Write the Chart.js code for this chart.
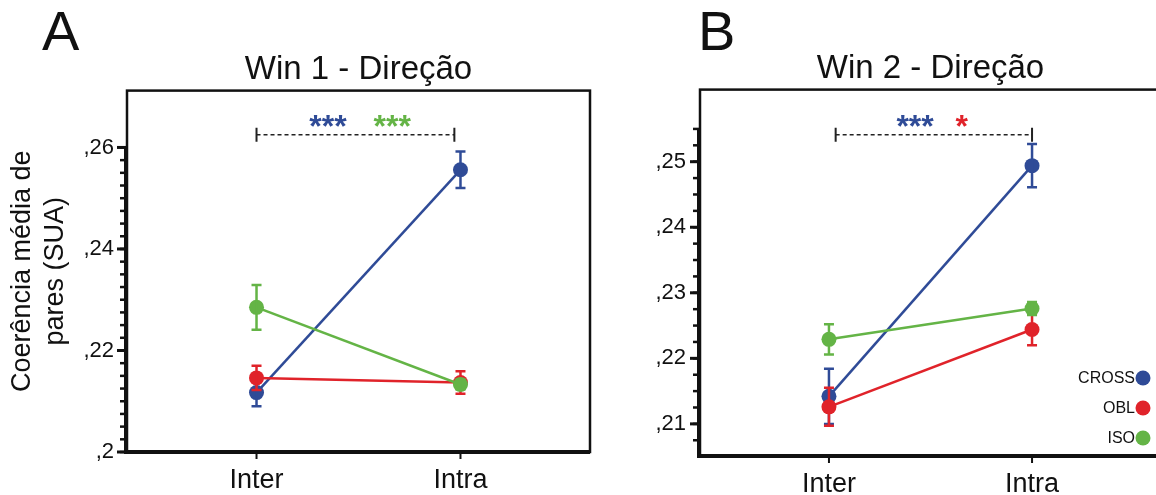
<!DOCTYPE html>
<html>
<head>
<meta charset="utf-8">
<script src="https://cdn.jsdelivr.net/npm/chart.js@4.4.1/dist/chart.umd.min.js"></script>
<style>
  html, body { margin: 0; padding: 0; background: #fff; overflow: hidden; width: 1156px; height: 495px; }
  .panel { position: absolute; top: 0; height: 495px; }
  #wrapA { left: 0; width: 600px; }
  #wrapB { left: 600px; width: 570px; }
  .letter { position: absolute; top: 3px; font: 56px "Liberation Sans", Arial, sans-serif; line-height: 56px; color: #111; }
</style>
</head>
<body>
<div class="panel" id="wrapA"><canvas id="chartA" width="600" height="495"></canvas></div>
<div class="panel" id="wrapB"><canvas id="chartB" width="570" height="495"></canvas></div>
<div class="letter" style="left:42px">A</div>
<div class="letter" style="left:698px">B</div>
<script>
// ---- dados ----
const categories = ['Inter', 'Intra'];
const seriesNames = ['CROSS', 'OBL', 'ISO'];
const seriesColors = ['#2f4b97', '#e0232a', '#64b446'];

// Win 1
const win1Cross = [0.2117, 0.2556];
const win1CrossErr = [0.0027, 0.0036];
const win1Obl = [0.2146, 0.2137];
const win1OblErr = [0.0024, 0.0022];
const win1Iso = [0.2285, 0.2133];
const win1IsoErr = [0.0044, 0.0010];
const win1Ticks = [0.20, 0.22, 0.24, 0.26];

// Win 2
const win2Cross = [0.2142, 0.2494];
const win2CrossErr = [0.0042, 0.0033];
const win2Obl = [0.2126, 0.2244];
const win2OblErr = [0.0029, 0.0024];
const win2Iso = [0.2229, 0.2276];
const win2IsoErr = [0.0023, 0.0010];
const win2Ticks = [0.21, 0.22, 0.23, 0.24, 0.25];

const FONT = '"Liberation Sans", Arial, Helvetica, sans-serif';
const INK = '#111';

function fmtTick(v) {
  // 0.22 -> ",22"
  return String(+v.toFixed(3)).replace(/^0\./, ',');
}

// Eixos, marcas menores, colchete de significância e legenda
const framePlugin = {
  id: 'frame',
  beforeDatasetsDraw(chart, args, opts) {
    const { ctx, chartArea: a, scales: { x, y } } = chart;
    ctx.save();
    ctx.strokeStyle = INK;
    ctx.lineWidth = 2.5;
    ctx.strokeRect(a.left, a.top, a.right - a.left, a.bottom - a.top);

    ctx.lineWidth = 4;
    ctx.beginPath();
    ctx.moveTo(a.left - 1, y.getPixelForValue(opts.axisTop));
    ctx.lineTo(a.left - 1, a.bottom);
    ctx.lineTo(a.right, a.bottom);
    ctx.stroke();

    // marcas menores a cada 0,0025
    ctx.lineWidth = 2.5;
    const n = Math.round((opts.axisTop - opts.minorFrom) / opts.minorStep);
    for (let i = 0; i <= n; i++) {
      const py = y.getPixelForValue(opts.minorFrom + i * opts.minorStep);
      ctx.beginPath();
      ctx.moveTo(a.left - 7, py);
      ctx.lineTo(a.left, py);
      ctx.stroke();
    }
    ctx.lineWidth = 3;
    y.ticks.forEach((t) => {
      const py = y.getPixelForValue(t.value);
      ctx.beginPath();
      ctx.moveTo(a.left - 10, py);
      ctx.lineTo(a.left, py);
      ctx.stroke();
    });
    ctx.lineWidth = 2;
    x.ticks.forEach((t) => {
      const px = x.getPixelForValue(t.value);
      ctx.beginPath();
      ctx.moveTo(px, a.bottom);
      ctx.lineTo(px, a.bottom + 7);
      ctx.stroke();
    });
    ctx.restore();
  },
  afterDatasetDraw(chart, args) {
    const ds = chart.data.datasets[args.index];
    if (!ds.errors) return;
    const { ctx, scales: { y } } = chart;
    ctx.save();
    ctx.strokeStyle = ds.borderColor;
    ctx.lineWidth = 2.5;
    args.meta.data.forEach((pt, i) => {
      const v = ds.data[i].y, e = ds.errors[i];
      const y1 = y.getPixelForValue(v + e), y2 = y.getPixelForValue(v - e);
      ctx.beginPath();
      ctx.moveTo(pt.x, y1); ctx.lineTo(pt.x, y2);
      ctx.moveTo(pt.x - 5, y1); ctx.lineTo(pt.x + 5, y1);
      ctx.moveTo(pt.x - 5, y2); ctx.lineTo(pt.x + 5, y2);
      ctx.stroke();
    });
    ctx.restore();
  },
  afterDraw(chart, args, opts) {
    const { ctx, chartArea: a, scales: { x, y } } = chart;
    ctx.save();
    const b = opts.bracket;
    const by = y.getPixelForValue(b.y);
    const bx1 = x.getPixelForValue(b.x0), bx2 = x.getPixelForValue(b.x1);
    ctx.strokeStyle = '#222';
    ctx.lineWidth = 1.5;
    ctx.setLineDash([4, 3]);
    ctx.beginPath();
    ctx.moveTo(bx1, by); ctx.lineTo(bx2, by);
    ctx.stroke();
    ctx.setLineDash([]);
    ctx.lineWidth = 2;
    ctx.beginPath();
    ctx.moveTo(bx1, by - 7); ctx.lineTo(bx1, by + 7);
    ctx.moveTo(bx2, by - 7); ctx.lineTo(bx2, by + 7);
    ctx.stroke();

    ctx.font = 'bold 32px ' + FONT;
    ctx.textAlign = 'center';
    ctx.textBaseline = 'alphabetic';
    opts.stars.forEach((s) => {
      ctx.fillStyle = s.color;
      ctx.fillText(s.text, x.getPixelForValue(s.x), y.getPixelForValue(s.y) + 11);
    });

    if (opts.legend) {
      ctx.font = '16px ' + FONT;
      ctx.textAlign = 'right';
      ctx.textBaseline = 'middle';
      seriesNames.forEach((name, i) => {
        const cy = a.bottom - 18 - (seriesNames.length - 1 - i) * 30;
        const cx = a.right - 18;
        ctx.fillStyle = INK;
        ctx.fillText(name, cx - 8, cy + 1);
        ctx.fillStyle = seriesColors[i];
        ctx.beginPath();
        ctx.arc(cx, cy, 7.5, 0, Math.PI * 2);
        ctx.fill();
      });
    }
    ctx.restore();
  }
};

function makeDatasets(values, errors) {
  return values.map((vals, s) => ({
    label: seriesNames[s],
    data: vals.map((v, i) => ({ x: i, y: v })),
    errors: errors[s],
    borderColor: seriesColors[s],
    backgroundColor: seriesColors[s],
    borderWidth: 2.5,
    pointRadius: 7.5,
    pointBorderWidth: 0,
    order: values.length - s
  }));
}

function makeChart(canvasId, cfg) {
  return new Chart(document.getElementById(canvasId), {
    type: 'line',
    data: { datasets: makeDatasets(cfg.values, cfg.errors) },
    plugins: [framePlugin],
    options: {
      responsive: false,
      animation: false,
      events: [],
      layout: { padding: { left: 0, right: cfg.padRight, top: 0, bottom: 0 } },
      plugins: {
        legend: { display: false },
        tooltip: { enabled: false },
        title: {
          display: true,
          text: cfg.title,
          fullSize: false,
          color: INK,
          font: { family: FONT, size: 33, weight: 'normal' },
          padding: { top: cfg.titleTop, bottom: 1 }
        },
        frame: cfg.frame
      },
      scales: {
        x: {
          type: 'linear',
          min: cfg.xMin,
          max: cfg.xMax,
          grid: { display: false, drawTicks: false },
          border: { display: false },
          afterBuildTicks: (s) => { s.ticks = categories.map((c, i) => ({ value: i })); },
          afterFit: (s) => { s.height = cfg.xHeight; },
          ticks: {
            color: INK,
            font: { family: FONT, size: 27 },
            padding: 12,
            callback: (v) => categories[v]
          }
        },
        y: {
          min: cfg.yMin,
          max: cfg.yMax,
          grid: { display: false, drawTicks: false },
          border: { display: false },
          afterBuildTicks: (s) => { s.ticks = cfg.ticks.map((v) => ({ value: v })); },
          afterFit: (s) => { s.width = cfg.yWidth; },
          title: {
            display: !!cfg.yTitle,
            text: cfg.yTitle,
            color: INK,
            font: { family: FONT, size: 27, lineHeight: 1.22 },
            padding: { top: 6, bottom: 0 }
          },
          ticks: {
            color: INK,
            font: { family: FONT, size: 22 },
            padding: cfg.tickPad,
            callback: (v) => fmtTick(v)
          }
        }
      }
    }
  });
}

makeChart('chartA', {
  title: 'Win 1 - Direção',
  yTitle: ['Coerência média de', 'pares (SUA)'],
  values: [win1Cross, win1Obl, win1Iso],
  errors: [win1CrossErr, win1OblErr, win1IsoErr],
  ticks: win1Ticks,
  yMin: 0.2, yMax: 0.2712,
  xMin: -0.635, xMax: 1.635,
  yWidth: 127, xHeight: 43, padRight: 10, titleTop: 50, tickPad: 13,
  frame: {
    axisTop: 0.26, minorFrom: 0.2, minorStep: 0.0025,
    bracket: { y: 0.2625, x0: 0.0, x1: 0.97 },
    stars: [
      { text: '***', color: seriesColors[0], x: 0.35, y: 0.2643 },
      { text: '***', color: seriesColors[2], x: 0.665, y: 0.2643 }
    ],
    legend: false
  }
});

makeChart('chartB', {
  title: 'Win 2 - Direção',
  yTitle: null,
  values: [win2Cross, win2Obl, win2Iso],
  errors: [win2CrossErr, win2OblErr, win2IsoErr],
  ticks: win2Ticks,
  yMin: 0.2051, yMax: 0.2610,
  xMin: -0.635, xMax: 1.635,
  yWidth: 100, xHeight: 39, padRight: 9, titleTop: 49, tickPad: 14,
  frame: {
    axisTop: 0.255, minorFrom: 0.2075, minorStep: 0.0025,
    bracket: { y: 0.2541, x0: 0.033, x1: 1.0 },
    stars: [
      { text: '***', color: seriesColors[0], x: 0.424, y: 0.2555 },
      { text: '*', color: seriesColors[1], x: 0.654, y: 0.2555 }
    ],
    legend: true
  }
});
</script>
</body>
</html>
